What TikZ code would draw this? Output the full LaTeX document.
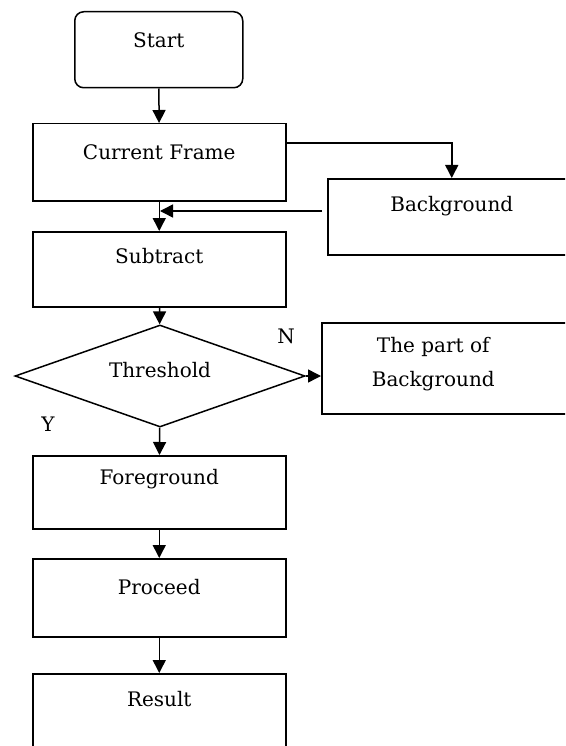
\documentclass[tikz,border=0pt]{standalone}
\usepackage{fontspec}
\setmainfont{DejaVu Serif}
\usetikzlibrary{shapes.geometric,arrows.meta}
\begin{document}
\begin{tikzpicture}[x=1pt,y=-1pt,
  box/.style={draw,line width=1.5pt,rectangle,inner sep=0pt,anchor=north west},
  txt/.style={anchor=center,inner sep=0pt,font=\fontsize{20}{24}\selectfont},
  arr/.style={line width=1.5pt,-{Triangle[width=13pt,length=13pt]}},
]
\useasboundingbox (0,0) rectangle (565,746);
\clip (0,0) rectangle (565,746);
\node[box,rounded corners=9pt,minimum width=168pt,minimum height=76pt,
  label={[txt,yshift=-29pt]north:Start}] (start) at (74,11) {};
\node[box,minimum width=253pt,minimum height=77pt,
  label={[txt,yshift=-29pt]north:Current Frame}] (cf) at (32,123) {};
\node[box,minimum width=248pt,minimum height=76pt,
  label={[txt,yshift=-28pt]north:Background}] (bg) at (327,178) {};
\node[box,minimum width=253pt,minimum height=75pt,
  label={[txt,yshift=-25pt]north:Subtract}] (sub) at (32,231) {};
\node[draw,line width=1.5pt,diamond,inner sep=0pt,minimum width=290pt,minimum height=102pt,
  label={[txt,yshift=6pt]center:Threshold}] (thr) at (160,376) {};
\node[box,minimum width=279pt,minimum height=91pt,
  label={[txt,align=center,font=\fontsize{20}{34}\selectfont,xshift=-28pt,yshift=-42pt]north:The part of\\Background}] (part) at (321,322) {};
\node[box,minimum width=253pt,minimum height=73pt,
  label={[txt,yshift=-24pt]north:Foreground}] (fg) at (32,455) {};
\node[box,minimum width=253pt,minimum height=78pt,
  label={[txt,yshift=-29pt]north:Proceed}] (pro) at (32,558) {};
\node[box,minimum width=253pt,minimum height=90pt,
  label={[txt,yshift=-26pt]north:Result}] (res) at (32,673) {};
\node[txt] (nlab) at (286,336) {N};
\node[txt] (ylab) at (48,424) {Y};
\coordinate (c1) at (285,143);
\coordinate (b1) at (322,211);
\coordinate (fb) at (160,211);
\draw[arr] (start) -- (cf);
\draw[arr] (c1) -| (bg.north);
\draw[arr] (b1) -- (fb);
\draw[arr] (cf) -- (sub);
\draw[arr] (sub) -- (thr);
\draw[arr] (thr.east) -- (thr.east -| part.west);
\draw[arr] (thr) -- (fg);
\draw[arr] (fg) -- (pro);
\draw[arr] (pro) -- (res);
\end{tikzpicture}
\end{document}
